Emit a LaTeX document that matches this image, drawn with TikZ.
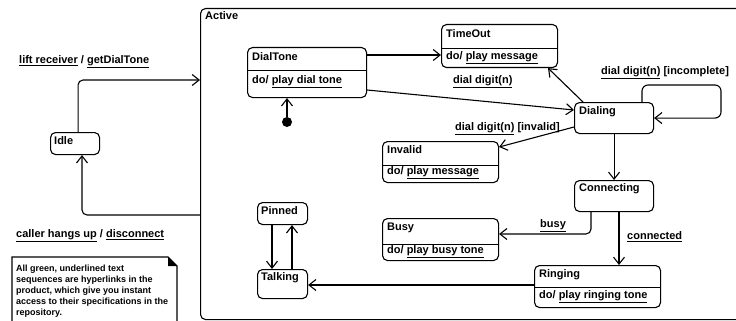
\documentclass[tikz,border=0pt]{standalone}
\usepackage{fontspec}
\setmainfont{Liberation Sans}
\usetikzlibrary{arrows.meta}
\tikzset{
  st/.style={draw, line width=1.1pt, rounded corners=5pt, inner sep=0pt, anchor=north west},
  ttl/.style={font=\fontsize{11}{13}\selectfont\bfseries, inner sep=0pt, anchor=west},
  lbl/.style={font=\fontsize{11}{13}\selectfont\bfseries, inner sep=0pt, anchor=west},
  arr/.style={line width=1.1pt, -{Straight Barb[length=7pt,width=11pt]}},
  dv/.style={line width=1pt},
}
\newcommand{\lk}[1]{\underline{#1}}
\begin{document}
\begin{tikzpicture}[x=1pt, y=-1pt]
\clip (0,0) rectangle (736,321);
\useasboundingbox (0,0) rectangle (736,321);

% Active superstate
\node[st, minimum width=560pt, minimum height=311pt] (active) at (200,8) {};
\node[ttl] (activet) at (205,16) {Active};

% Idle
\node[st, minimum width=49pt, minimum height=22pt] (idle) at (50,132) {};
\node[ttl] (idlet) at (54,141) {Idle};

% DialTone
\node[st, minimum width=119pt, minimum height=50pt] (dialtone) at (247,47) {};
\draw[dv] (dialtone.west |- 0,71) -- (dialtone.east |- 0,71);
\node[ttl] (dialtonet) at (252,57) {DialTone};
\node[ttl] (dialtoned) at (252,82) {do/ \lk{play dial tone}};

% initial state
\node[circle, fill, inner sep=0pt, minimum size=10pt] (init) at (287,122) {};

% TimeOut
\node[st, minimum width=116pt, minimum height=43pt] (timeout) at (441,24) {};
\draw[dv] (timeout.west |- 0,49) -- (timeout.east |- 0,49);
\node[ttl] (timeoutt) at (446,34) {TimeOut};
\node[ttl] (timeoutd) at (446,58) {do/ \lk{play message}};

% Dialing
\node[st, minimum width=79pt, minimum height=31pt] (dialing) at (574,102) {};
\node[ttl] (dialingt) at (579,112) {Dialing};

% Invalid
\node[st, minimum width=116pt, minimum height=41pt] (invalid) at (382,141) {};
\draw[dv] (invalid.west |- 0,165) -- (invalid.east |- 0,165);
\node[ttl] (invalidt) at (387,150) {Invalid};
\node[ttl] (invalidd) at (387,173) {do/ \lk{play message}};

% Connecting
\node[st, minimum width=79pt, minimum height=31pt] (connecting) at (574,180) {};
\node[ttl] (connectingt) at (579,189) {Connecting};

% Busy
\node[st, minimum width=116pt, minimum height=42pt] (busy) at (382,218) {};
\draw[dv] (busy.west |- 0,244) -- (busy.east |- 0,244);
\node[ttl] (busyt) at (387,228) {Busy};
\node[ttl] (busyd) at (387,252) {do/ \lk{play busy tone}};

% Ringing
\node[st, minimum width=126pt, minimum height=42pt] (ringing) at (534,265) {};
\draw[dv] (ringing.west |- 0,287) -- (ringing.east |- 0,287);
\node[ttl] (ringingt) at (539,275) {Ringing};
\node[ttl] (ringingd) at (539,297) {do/ \lk{play ringing tone}};

% Pinned / Talking
\node[st, minimum width=50pt, minimum height=22pt] (pinned) at (257,202) {};
\node[ttl] (pinnedt) at (261,211) {Pinned};
\node[st, minimum width=50pt, minimum height=29pt] (talking) at (257,269) {};
\node[ttl] (talkingt) at (261,278) {Talking};

% transitions
\draw[arr, rounded corners=5pt] ([xshift=3pt]idle.north) |- (active.west |- 0,80);
\node[lbl] (l1) at (19,62) {\lk{lift receiver} / \lk{getDialTone}};
\draw[arr, rounded corners=5pt] (active.west |- 0,215) -| (idle.south -| 82,0);
\node[lbl] (l2) at (16,236) {\lk{caller hangs up} / \lk{disconnect}};

\draw[arr] (init) -- (dialtone.south -| init);
\draw[arr] (dialtone.east |- 0,55) -- (timeout.west |- 0,55);
\draw[arr] (dialtone.east |- 0,90) -- (dialing.west |- 0,110);
\node[lbl] (l3) at (453,82) {\lk{dial digit(n)}};
\draw[arr] (dialing.north -| 583,0) -- (timeout.south -| 548,0);
\draw[arr, rounded corners=6pt] (dialing.north -| 642,0) |- (721,85) |- (dialing.east);
\node[lbl] (l4) at (601,73) {\lk{dial digit(n)} [incomplete]};
\draw[arr] (dialing.west |- 0,127) -- (invalid.east |- 0,147);
\node[lbl] (l5) at (455,129) {\lk{dial digit(n)} [invalid]};
\draw[arr] (dialing.south) -- (connecting.north);
\draw[arr, rounded corners=5pt] (connecting.south -| 591,0) |- (busy.east |- 0,234);
\node[lbl] (l6) at (540,226) {\lk{busy}};
\draw[arr] (connecting.south -| 619,0) -- (ringing.north -| 619,0);
\node[lbl] (l7) at (627,237) {\lk{connected}};
\draw[arr] (ringing.west |- 0,285) -- (talking.east |- 0,285);
\draw[arr] (pinned.south -| 272,0) -- (talking.north -| 272,0);
\draw[arr] (talking.north -| 292,0) -- (pinned.south -| 292,0);

% note
\draw[line width=1.1pt] (12,325) -- (12,257) -- (168,257) -- (177,266) -- (177,325);
\fill (168,257) -- (177,266) -- (168,266) -- cycle;
\node[anchor=north west, inner sep=0pt, align=left, font=\fontsize{9}{11}\selectfont\bfseries] (note) at (16,265)
 {All green, underlined text\\sequences are hyperlinks in the\\product, which give you instant\\access to their specifications in the\\repository.};
\end{tikzpicture}
\end{document}
